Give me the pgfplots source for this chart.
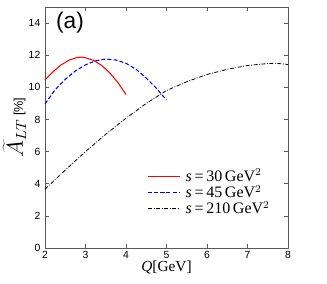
\documentclass[border=0pt]{standalone}
\usepackage{pgfplots}
\pgfplotsset{compat=1.18}
\usepackage{fontspec}
\setmainfont{Liberation Serif}
\setsansfont{Liberation Sans}
\begin{document}
\begin{tikzpicture}
\begin{axis}[
  scale only axis,
  width=182.25pt, height=180.75pt,
  xmin=2, xmax=8, ymin=0, ymax=15,
  xtick={2,3,4,5,6,7,8},
  ytick={0,2,4,6,8,10,12,14},
  tick align=inside,
  major tick length=3pt,
  minor tick num=0,
  axis line style={black!65},
  every tick/.style={black!65},
  tick label style={font=\sffamily\fontsize{7.8}{8}\selectfont},
  /pgf/number format/assume math mode=true,
  xticklabel style={yshift=1pt},
  xlabel={\fontsize{11.5}{12}\selectfont\textit{Q}[GeV]},
  xlabel style={yshift=5pt},
  ylabel={\fontsize{16}{17}\selectfont$\widetilde{A}_{LT}$\,{\sffamily\fontsize{9.5}{10}\selectfont[\%]}},
  ylabel style={yshift=-5pt},
  legend style={draw=none, fill=none, at={(0.415,0.345)}, anchor=north west,
    font=\fontsize{12}{12}\selectfont, row sep=-3pt, inner sep=1pt},
  legend cell align=left,
  legend image post style={xscale=1.4},
  clip=false,
]
\addplot[red, line width=0.8pt] coordinates {
(2.0,10.47) (2.2,10.97) (2.4,11.4) (2.6,11.7) (2.8,11.86) (2.9,11.88) (3.0,11.84) (3.2,11.68) (3.4,11.36) (3.6,10.9) (3.8,10.3) (4.0,9.55)
};
\addlegendentry{\hspace{2pt}\textit{s}\,=\,30\,GeV$^2$}
\addplot[blue, line width=0.8pt, dash pattern=on 3pt off 1.6pt] coordinates {
(2.0,8.97) (2.25,9.85) (2.5,10.5) (2.75,11.02) (3.0,11.4) (3.25,11.65) (3.5,11.76) (3.75,11.7) (4.0,11.5) (4.25,11.12) (4.5,10.58) (4.75,9.95) (5.0,9.2)
};
\addlegendentry{\hspace{2pt}\textit{s}\,=\,45\,GeV$^2$}
\addplot[black, line width=0.6pt, dash pattern=on 3pt off 1.2pt on 0.6pt off 1.2pt] coordinates {
(2.0,3.66) (2.5,4.85) (3.0,6.0) (3.5,7.08) (4.0,8.08) (4.5,9.0) (5.0,9.8) (5.5,10.35) (6.0,10.8) (6.5,11.12) (7.0,11.36) (7.5,11.48) (7.7,11.5) (8.0,11.42)
};
\addlegendentry{\hspace{2pt}\textit{s}\,=\,210\,GeV$^2$}
\node[anchor=north west, font=\sffamily\fontsize{17}{18}\selectfont, inner sep=0pt] at (rel axis cs:0.045,0.98) {(a)};
\end{axis}
\pgfresetboundingbox
\useasboundingbox ([shift={(-33.75pt,-27pt)}]current axis.south west) rectangle ([shift={(29.25pt,5.25pt)}]current axis.north east);
\end{tikzpicture}
\end{document}
